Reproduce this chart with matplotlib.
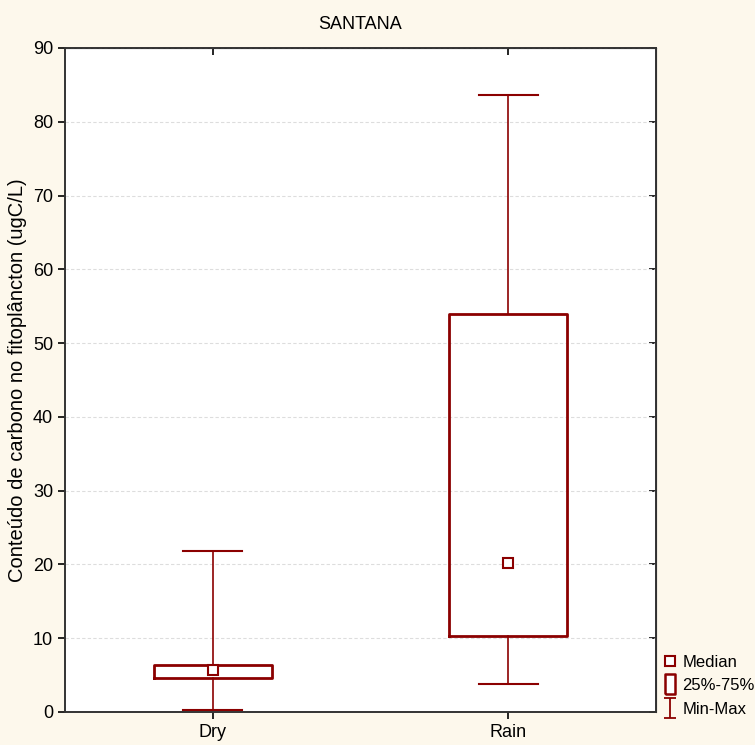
import matplotlib
matplotlib.use("Agg")
import matplotlib.pyplot as plt
from matplotlib.lines import Line2D
from matplotlib.path import Path

# Values
groups = ["Dry", "Rain"]
minimum = [0.3, 3.8]
q1 = [4.6, 10.3]
median = [5.7, 20.2]
q3 = [6.4, 53.9]
maximum = [21.8, 83.6]
y_ticks = [0, 10, 20, 30, 40, 50, 60, 70, 80, 90]

red = "#8b0000"
bg = "#fdf8ec"

plt.rcParams["font.family"] = ["Liberation Sans", "DejaVu Sans"]
plt.rcParams["font.size"] = 13

fig = plt.figure(figsize=(7.55, 7.45), dpi=100, facecolor=bg)
ax = fig.add_axes([0.086, 0.0443, 0.783, 0.8913])
ax.set_facecolor("white")

stats = []
for i, g in enumerate(groups):
    stats.append({"label": g, "whislo": minimum[i], "q1": q1[i], "med": median[i],
                  "q3": q3[i], "whishi": maximum[i], "fliers": []})

positions = [1, 2]
ax.bxp(stats, positions=positions, widths=0.4, capwidths=0.2, showfliers=False,
       boxprops=dict(color=red, linewidth=2),
       whiskerprops=dict(color=red, linewidth=1.2),
       capprops=dict(color=red, linewidth=1.5),
       medianprops=dict(linewidth=0))
ax.plot(positions, median, linestyle="none", marker="s", markersize=7,
        markerfacecolor="white", markeredgecolor=red, markeredgewidth=1.5, zorder=5)

ax.set_xlim(0.5, 2.5)
ax.set_ylim(0, 90)
ax.set_yticks(y_ticks)
ax.set_xticks(positions)
ax.set_xticklabels(groups)
ax.yaxis.grid(True, color="#dddddd", linestyle=(0, (3, 2)), linewidth=0.8)
ax.set_axisbelow(True)
ax.tick_params(direction="out", length=5, width=1.2, labelsize=13)
for s in ax.spines.values():
    s.set_color("#333333")
    s.set_linewidth(1.4)

right = ax.secondary_yaxis("right")
right.set_yticks(y_ticks)
right.tick_params(direction="in", length=5, width=1.2, labelright=False)
top = ax.secondary_xaxis("top")
top.set_xticks(positions)
top.tick_params(direction="in", length=5, width=1.2, labeltop=False)

ax.set_ylabel("Conteúdo de carbono no fitoplâncton (ugC/L)", fontsize=14.5, labelpad=4)
ax.set_title("SANTANA", fontsize=13, pad=14)

box_marker = Path([(-0.55, -1), (0.55, -1), (0.55, 1), (-0.55, 1), (-0.55, -1)])
bar_marker = Path([(-0.55, 1), (0.55, 1), (0, 1), (0, -1), (-0.55, -1), (0.55, -1)],
                  [Path.MOVETO, Path.LINETO, Path.MOVETO, Path.LINETO, Path.MOVETO, Path.LINETO])
handles = [
    Line2D([], [], linestyle="none", marker="s", markersize=6.5, markerfacecolor="white",
           markeredgecolor=red, markeredgewidth=1.5),
    Line2D([], [], linestyle="none", marker=box_marker, markersize=14, markerfacecolor="white",
           markeredgecolor=red, markeredgewidth=1.8),
    Line2D([], [], linestyle="none", marker=bar_marker, markersize=15, markerfacecolor="none",
           markeredgecolor=red, markeredgewidth=1.3),
]
fig.legend(handles, ["Median", "25%-75%", "Min-Max"], loc="lower left",
           bbox_to_anchor=(0.877, 0.036), frameon=False, handlelength=0.7,
           handletextpad=0.4, labelspacing=0.5, fontsize=12, borderpad=0.1,
           borderaxespad=0)

fig.savefig("out.png", dpi=100, facecolor=bg)
